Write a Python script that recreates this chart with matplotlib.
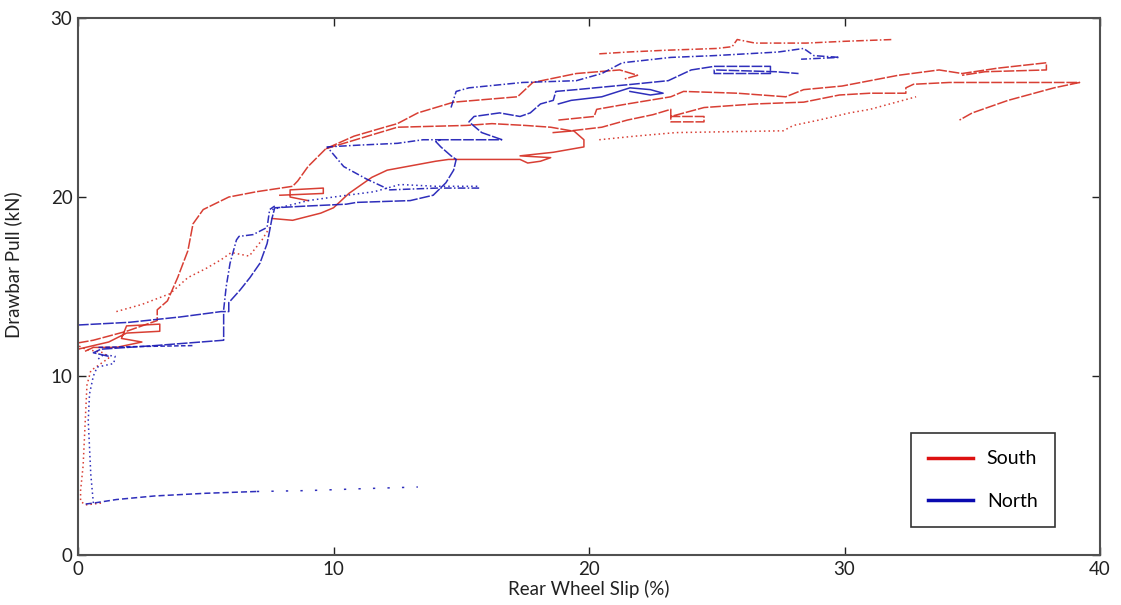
import matplotlib
matplotlib.use("Agg")
import matplotlib.pyplot as plt
from matplotlib.lines import Line2D

plt.rcParams['font.family'] = ['Lato', 'DejaVu Sans']

# South runs: slip (%) vs drawbar pull (kN)
s1_x = [0.9, 0.3, 0.1, 0.1, 0.2, 0.25, 0.3, 0.35, 0.5, 0.9, 1.2, 1.0, 0.3, 0.0]
s1_y = [2.9, 2.8, 3.0, 3.6, 5.0, 6.5, 8.0, 9.5, 10.3, 10.7, 11.0, 11.3, 11.5, 11.7]
s2_x = [0.0, 0.6, 1.9, 3.1, 3.1, 3.5, 3.9, 4.3, 4.5, 4.9, 5.9, 7.0, 8.4, 8.6, 9.0, 9.7,
        10.8, 12.0, 12.5, 13.3, 14.7, 17.2, 17.8, 19.5, 21.2, 21.9, 21.4]
s2_y = [11.85, 12.0, 12.5, 13.1, 13.7, 14.2, 15.5, 17.0, 18.5, 19.3, 20.0, 20.3, 20.6, 20.9,
        21.7, 22.7, 23.4, 23.9, 24.1, 24.7, 25.3, 25.6, 26.4, 26.9, 27.1, 26.8, 26.6]
s3_x = [1.5, 2.5, 3.6, 4.3, 5.0, 5.6, 6.0, 6.7, 7.2, 7.5]
s3_y = [13.6, 14.0, 14.6, 15.5, 16.0, 16.5, 16.9, 16.7, 17.6, 18.3]
s4_x = [0.0, 1.2, 1.9, 3.2, 3.2, 1.9, 1.7, 2.5, 1.5, 0.6, 0.3]
s4_y = [11.5, 11.9, 12.4, 12.5, 12.9, 12.8, 12.1, 11.9, 11.6, 11.6, 11.4]
s5_x = [20.4, 21.5, 23.0, 25.0, 25.6, 25.8, 26.5, 28.5, 30.0, 31.9]
s5_y = [28.0, 28.1, 28.2, 28.3, 28.4, 28.8, 28.6, 28.6, 28.7, 28.8]
s6_x = [9.7, 12.5, 15.2, 16.2, 17.5, 18.5, 19.3, 20.5, 21.5, 22.5, 23.2, 23.2, 24.5, 24.5,
        23.2, 24.5, 26.5, 28.4, 29.8, 31.0, 32.4, 32.4, 32.7, 34.1, 36.0, 37.7, 39.2, 38.2,
        36.4, 35.0, 34.5]
s6_y = [22.7, 23.9, 24.0, 24.1, 24.0, 23.9, 23.7, 23.9, 24.3, 24.6, 24.9, 24.2, 24.2, 24.5,
        24.5, 25.0, 25.2, 25.3, 25.7, 25.8, 25.8, 26.1, 26.3, 26.4, 26.4, 26.4, 26.4, 26.1,
        25.4, 24.7, 24.3]
s7_x = [18.8, 20.2, 20.3, 21.5, 23.2, 23.7, 25.8, 27.7, 28.4, 29.9, 32.1, 33.7, 34.6, 36.0,
        37.9, 37.9, 35.5, 34.6]
s7_y = [24.3, 24.5, 24.9, 25.2, 25.6, 25.9, 25.8, 25.6, 26.0, 26.2, 26.8, 27.1, 26.9, 27.2,
        27.5, 27.1, 27.0, 26.8]
s8_x = [7.6, 8.4, 9.5, 10.0, 10.6, 11.5, 12.1, 14.0, 14.5, 16.0, 17.3, 17.6, 18.1, 18.5,
        17.3, 18.6, 19.8, 19.8, 19.4, 18.6]
s8_y = [18.8, 18.7, 19.1, 19.4, 20.2, 21.1, 21.5, 22.0, 22.1, 22.1, 22.1, 21.9, 22.0, 22.2,
        22.3, 22.5, 22.8, 23.2, 23.7, 23.6]
s9_x = [7.9, 9.6, 9.6, 8.3, 8.3, 9.0]
s9_y = [20.1, 20.2, 20.5, 20.4, 20.0, 19.8]
s10_x = [20.4, 21.8, 23.4, 27.6, 28.0, 29.0, 30.2, 31.0, 32.8]
s10_y = [23.2, 23.4, 23.6, 23.7, 24.0, 24.3, 24.7, 24.9, 25.6]

# North runs
n1_x = [0.3, 0.6, 1.5, 3.0, 5.0, 7.0]
n1_y = [2.85, 2.9, 3.1, 3.3, 3.45, 3.55]
n2_x = [7.0, 9.0, 11.0, 13.3]
n2_y = [3.55, 3.6, 3.7, 3.8]
n3_x = [0.6, 0.5, 0.45, 0.4, 0.45, 0.6, 0.75, 1.4, 1.45, 1.0, 0.75]
n3_y = [2.9, 4.5, 6.0, 7.5, 9.0, 10.0, 10.5, 10.7, 11.1, 11.2, 10.9]
n4_x = [1.2, 0.6, 0.9, 3.0, 5.7, 5.7]
n4_y = [11.1, 11.3, 11.5, 11.7, 12.0, 13.5]
n5_x = [0.8, 2.5, 4.5]
n5_y = [11.6, 11.65, 11.7]
n6_x = [0.0, 2.0, 4.0, 5.6, 5.9, 5.9, 6.34, 6.73, 7.12, 7.4, 7.51, 7.59, 7.7, 9.0, 10.5, 10.9,
        13.0, 13.9, 14.4, 14.7, 14.8, 14.6, 14.2, 14.0, 14.2, 16.6]
n6_y = [12.85, 13.0, 13.3, 13.6, 13.6, 14.1, 14.8, 15.5, 16.3, 17.4, 18.2, 18.8, 19.4, 19.5,
        19.6, 19.7, 19.8, 20.1, 20.8, 21.5, 22.1, 22.3, 22.8, 23.1, 23.2, 23.2]
n7_x = [5.7, 5.8, 5.95, 6.2, 6.3, 6.85, 7.4, 7.5, 7.7]
n7_y = [13.7, 15.0, 16.3, 17.6, 17.8, 17.9, 18.3, 19.3, 19.5]
n8_x = [7.6, 9.0, 10.0, 11.6, 12.6, 14.0, 15.7]
n8_y = [19.3, 19.8, 20.0, 20.3, 20.7, 20.6, 20.6]
n9_x = [15.7, 14.05, 12.2, 11.3, 10.4, 9.75, 11.0, 12.5, 13.5, 14.2]
n9_y = [20.5, 20.5, 20.4, 21.0, 21.7, 22.8, 22.9, 23.0, 23.2, 23.2]
n10_x = [16.6, 15.8, 15.3, 15.5, 16.5, 17.3, 17.7, 18.1, 18.6, 18.7, 19.5, 21.7, 23.1, 24.0,
         24.9, 27.1, 27.1, 24.9, 24.9, 27.3, 28.2]
n10_y = [23.2, 23.6, 24.2, 24.5, 24.7, 24.5, 24.7, 25.2, 25.4, 25.9, 26.0, 26.3, 26.5, 27.1,
         27.3, 27.3, 26.9, 26.9, 27.1, 27.0, 26.9]
n11_x = [14.6, 14.8, 15.3, 17.4, 19.5, 20.5, 21.3, 23.2, 24.9, 27.4, 28.4, 28.8, 29.8, 28.3]
n11_y = [25.0, 25.9, 26.1, 26.4, 26.5, 26.9, 27.5, 27.8, 27.9, 28.1, 28.3, 27.9, 27.8, 27.7]
n12_x = [18.8, 19.3, 20.5, 21.6, 22.4, 22.9, 22.4, 21.6]
n12_y = [25.2, 25.4, 25.6, 26.1, 26.0, 25.8, 25.7, 25.9]

red = '#d42a1e'
blue = '#1818b4'
broken = (0, (7, 1.2))
dashdot = (0, (5, 1.5, 1, 1.5))
dotted = (0, (1, 2))
sparse = (0, (1.5, 8))

south = [(s1_x, s1_y, dotted), (s2_x, s2_y, broken), (s3_x, s3_y, dotted),
         (s4_x, s4_y, '-'), (s5_x, s5_y, dashdot), (s6_x, s6_y, broken),
         (s7_x, s7_y, broken), (s8_x, s8_y, '-'), (s9_x, s9_y, '-'),
         (s10_x, s10_y, dotted)]
north = [(n1_x, n1_y, (0, (4, 2))), (n2_x, n2_y, sparse), (n3_x, n3_y, dotted),
         (n4_x, n4_y, broken), (n5_x, n5_y, (0, (3, 1.5))), (n6_x, n6_y, broken),
         (n7_x, n7_y, dashdot), (n8_x, n8_y, dotted), (n9_x, n9_y, dashdot),
         (n10_x, n10_y, broken), (n11_x, n11_y, dashdot), (n12_x, n12_y, '-')]

fig = plt.figure(figsize=(11.21, 6.05), dpi=100)
ax = fig.add_axes([0.0696, 0.0826, 0.9117, 0.8876])

for x, y, ls in south:
    ax.plot(x, y, color=red, lw=1.1, ls=ls, alpha=0.9)
for x, y, ls in north:
    ax.plot(x, y, color=blue, lw=1.1, ls=ls, alpha=0.9)

ax.set_xlim(0, 40)
ax.set_ylim(0, 30)
ax.set_xticks([0, 10, 20, 30, 40])
ax.set_yticks([0, 10, 20, 30])
ax.tick_params(direction='in', length=6, width=1, top=True, right=True,
               labelsize=13.5, colors='#222222', pad=4)
for sp in ax.spines.values():
    sp.set_color('#505050')
    sp.set_linewidth(1.5)

ax.set_xlabel('Rear Wheel Slip (%)', fontsize=13.5, color='#222222', labelpad=2)
ax.set_ylabel('Drawbar Pull (kN)', fontsize=13.5, color='#222222')
ax.yaxis.set_label_coords(-0.055, 0.54)

handles = [Line2D([], [], color='#dd1111', lw=2.5),
           Line2D([], [], color='#0a0ab0', lw=2.5)]
leg = ax.legend(handles, ['South', 'North'], loc='lower right',
                bbox_to_anchor=(0.956, 0.052), borderaxespad=0, fontsize=14,
                labelspacing=1.3, handlelength=2.3, borderpad=0.9,
                handletextpad=0.7, fancybox=False, edgecolor='black')
leg.get_frame().set_linewidth(1.2)

fig.savefig('out.png', dpi=100)
